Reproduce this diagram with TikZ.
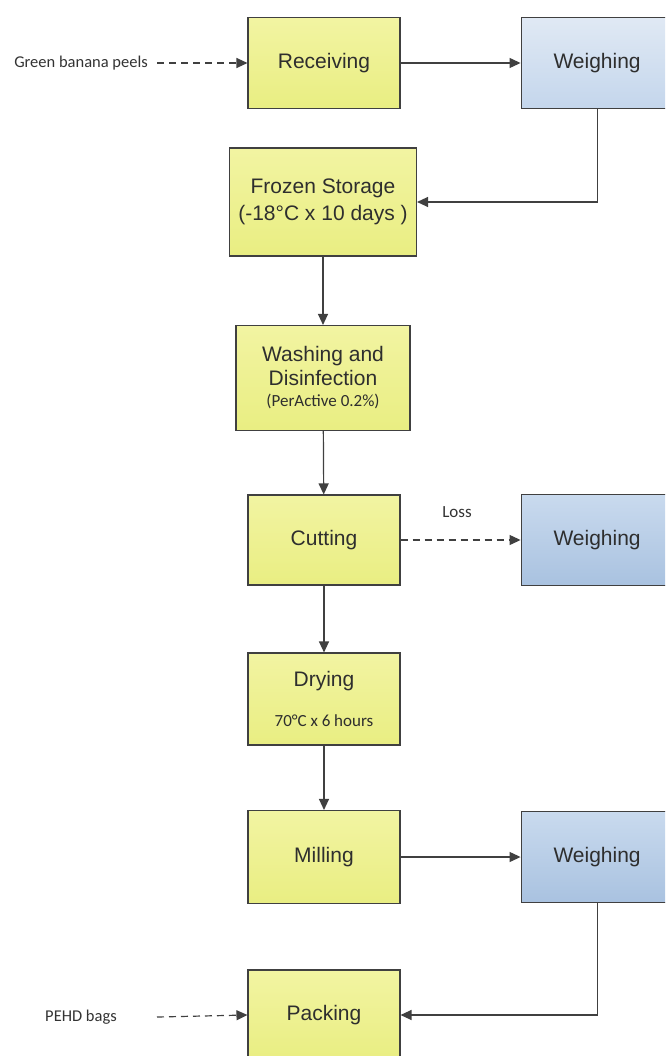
\documentclass[tikz,border=0pt]{standalone}
\usepackage{fontspec}
\setmainfont{Liberation Sans}
\newfontfamily\notefont{Carlito}
\newcommand{\smallnote}{\notefont\fontsize{17}{20}\selectfont}
\usetikzlibrary{positioning, arrows.meta, calc}
\definecolor{stepyellowtop}{HTML}{F2F4A2}
\definecolor{stepyellowbot}{HTML}{E9EE82}
\definecolor{weighlighttop}{HTML}{E0E9F4}
\definecolor{weighlightbot}{HTML}{C4D6EC}
\definecolor{weighdarktop}{HTML}{C9DAEE}
\definecolor{weighdarkbot}{HTML}{A9C2E0}
\definecolor{linegray}{HTML}{404040}
\tikzset{
    procbox/.style={
        draw=linegray, line width=1.1pt,
        minimum width=152pt, minimum height=91pt,
        font=\fontsize{21}{24}\selectfont, align=center,
        inner sep=2pt, text=black!82,
        top color=stepyellowtop, bottom color=stepyellowbot
    },
    weigh-light/.style={procbox, top color=weighlighttop, bottom color=weighlightbot},
    weigh-dark/.style={procbox, top color=weighdarktop, bottom color=weighdarkbot},
    note/.style={
        font=\notefont\fontsize{16.5}{19}\selectfont, text=black!80,
        inner sep=1pt
    },
    pipe/.style={
        -{Triangle[length=11pt, width=10pt]},
        line width=1.2pt, draw=linegray
    },
    feed/.style={pipe, dash pattern=on 7pt off 5pt},
}

\begin{document}
\begin{tikzpicture}[x=1pt, y=1pt]

\clip (0,0) rectangle (665,-1056);
\fill[white] (0,0) rectangle (665,-1056);

% ---- main line ----
\node[procbox] (recv) at (324,-63) {Receiving};
\node[weigh-light, right=120pt of recv] (weigh-in) {Weighing};
\node[procbox, minimum width=187pt, minimum height=108pt] (frozen) at (323,-202)
    {Frozen Storage\\[3pt](-18°C x 10 days )};
\node[procbox, minimum width=174pt, minimum height=105pt] (wash) at (323,-378)
    {Washing and\\Disinfection\\[-3pt]{\smallnote(PerActive 0.2\%)}};
\node[procbox, minimum height=90pt] (cut) at (324,-540) {Cutting};
\node[weigh-dark, right=120pt of cut] (weigh-loss) {Weighing};
\node[procbox, minimum height=92pt] (dry) at (324,-699)
    {Drying\\[16pt]{\smallnote 70°C x 6 hours}};
\node[procbox, minimum height=93pt] (mill) at (324,-857) {Milling};
\node[weigh-dark, right=120pt of mill] (weigh-out) {Weighing};
\node[procbox, minimum height=90pt] (pack) at (324,-1015) {Packing};

% ---- inputs and labels ----
\node[note, anchor=east] (peels) at (149,-63) {Green banana peels};
\coordinate (peels-in) at (157,-63);
\node[note] (bags) at (81,-1017) {PEHD bags};
\coordinate (bags-in) at (157,-1017);
\node[note, font=\smallnote] (loss) at (457,-512) {Loss};

% ---- connectors ----
\draw[feed] (peels-in) -- (recv.west);
\draw[pipe] (recv) -- (weigh-in);
\draw[pipe] (weigh-in.south) |- (frozen.east);
\draw[pipe] (frozen) -- (wash);
\draw[pipe] (wash) -- (cut);
\draw[feed] (cut) -- (weigh-loss);
\draw[pipe] (cut) -- (dry);
\draw[pipe] (dry) -- (mill);
\draw[pipe] (mill) -- (weigh-out);
\draw[pipe] (weigh-out.south) |- (pack.east);
\draw[feed] (bags-in) -- (pack.west);

\end{tikzpicture}
\end{document}
